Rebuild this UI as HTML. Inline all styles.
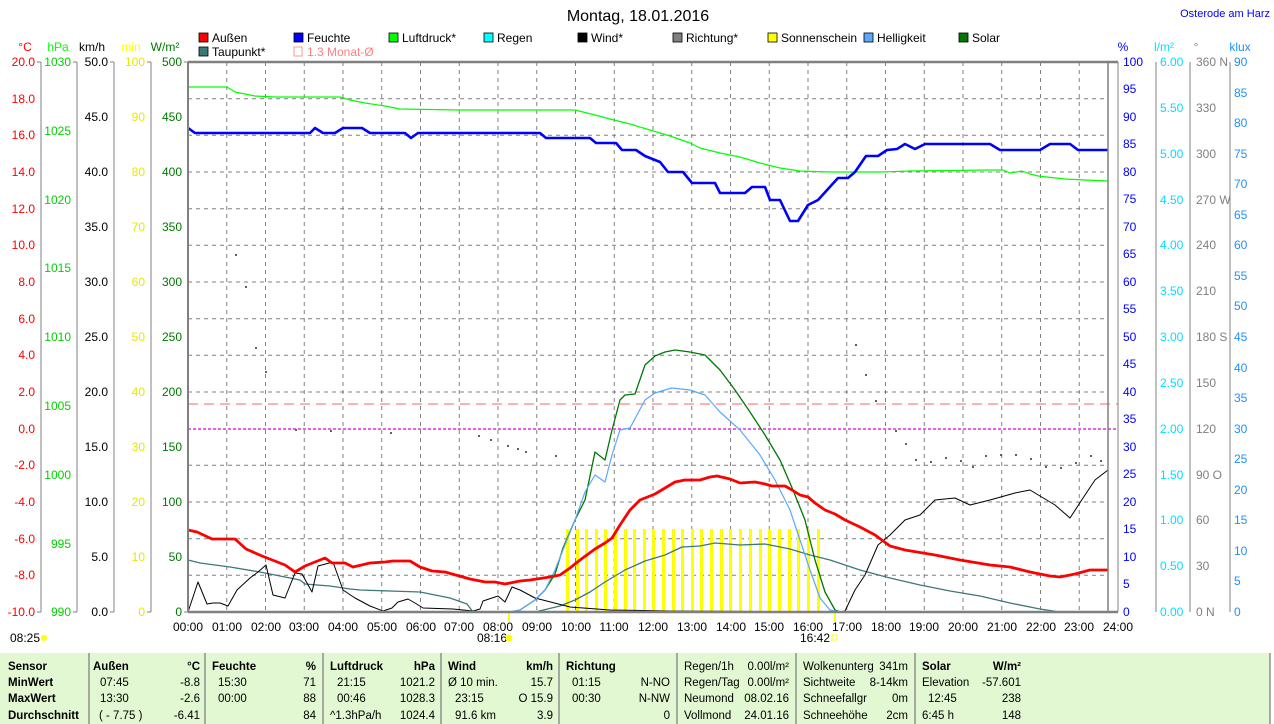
<!DOCTYPE html>
<html><head><meta charset="utf-8"><style>
html,body{margin:0;padding:0;background:#fff;}
svg{display:block;font-family:"Liberation Sans",Arial,sans-serif;}
</style></head><body>
<svg width="1274" height="724" viewBox="0 0 1274 724" xmlns="http://www.w3.org/2000/svg">
<rect width="1274" height="724" fill="#fff"/>
<text x="638" y="21" font-size="16" text-anchor="middle" fill="#000">Montag, 18.01.2016</text>
<text x="1270" y="17" font-size="11" text-anchor="end" fill="#0000ff">Osterode am Harz</text>
<!-- legend -->
<g font-size="12" fill="#000">
<rect x="199" y="33" width="9" height="9" fill="#f00" stroke="#000" stroke-width="0.8"/><text x="212" y="42">Außen</text>
<rect x="294" y="33" width="9" height="9" fill="#00f" stroke="#000" stroke-width="0.8"/><text x="307" y="42">Feuchte</text>
<rect x="389" y="33" width="9" height="9" fill="#0f0" stroke="#000" stroke-width="0.8"/><text x="402" y="42">Luftdruck*</text>
<rect x="484" y="33" width="9" height="9" fill="#0ff" stroke="#000" stroke-width="0.8"/><text x="497" y="42">Regen</text>
<rect x="578" y="33" width="9" height="9" fill="#000" stroke="#000" stroke-width="0.8"/><text x="591" y="42">Wind*</text>
<rect x="673" y="33" width="9" height="9" fill="#808080" stroke="#000" stroke-width="0.8"/><text x="686" y="42">Richtung*</text>
<rect x="768" y="33" width="9" height="9" fill="#ff0" stroke="#000" stroke-width="0.8"/><text x="781" y="42">Sonnenschein</text>
<rect x="864" y="33" width="9" height="9" fill="#5aa9ff" stroke="#000" stroke-width="0.8"/><text x="877" y="42">Helligkeit</text>
<rect x="959" y="33" width="9" height="9" fill="#007800" stroke="#000" stroke-width="0.8"/><text x="972" y="42">Solar</text>
<rect x="199" y="47" width="9" height="9" fill="#3c7878" stroke="#000" stroke-width="0.8"/><text x="212" y="56">Taupunkt*</text>
<rect x="294" y="47" width="8" height="9" fill="none" stroke="#ff8080" stroke-width="0.8"/><text x="307" y="56" fill="#ff8080">1.3 Monat-Ø</text>
</g>
<!-- axis headers -->
<g font-size="12">
<text x="25" y="51" fill="#f00" text-anchor="middle">°C</text>
<text x="58" y="51" fill="#0f0" text-anchor="middle">hPa</text>
<text x="92" y="51" fill="#000" text-anchor="middle">km/h</text>
<text x="131" y="51" fill="#ff0" text-anchor="middle">min</text>
<text x="165" y="51" fill="#007800" text-anchor="middle">W/m²</text>
<text x="1123" y="51" fill="#00f" text-anchor="middle">%</text>
<text x="1164" y="51" fill="#00e0ff" text-anchor="middle">l/m²</text>
<text x="1196" y="51" fill="#808080" text-anchor="middle">°</text>
<text x="1240" y="51" fill="#2090ff" text-anchor="middle">klux</text>
</g>
<!-- grid -->
<g stroke="#808080" stroke-width="1" stroke-dasharray="4,4">
<line x1="188" y1="98.7" x2="1108" y2="98.7"/><line x1="188" y1="135.3" x2="1108" y2="135.3"/><line x1="188" y1="172" x2="1108" y2="172"/><line x1="188" y1="208.7" x2="1108" y2="208.7"/><line x1="188" y1="245.3" x2="1108" y2="245.3"/><line x1="188" y1="282" x2="1108" y2="282"/><line x1="188" y1="318.7" x2="1108" y2="318.7"/><line x1="188" y1="355.3" x2="1108" y2="355.3"/><line x1="188" y1="392" x2="1108" y2="392"/><line x1="188" y1="465.3" x2="1108" y2="465.3"/><line x1="188" y1="502" x2="1108" y2="502"/><line x1="188" y1="538.7" x2="1108" y2="538.7"/><line x1="188" y1="575.3" x2="1108" y2="575.3"/>
<line x1="226.75" y1="62" x2="226.75" y2="612"/><line x1="265.5" y1="62" x2="265.5" y2="612"/><line x1="304.25" y1="62" x2="304.25" y2="612"/><line x1="343" y1="62" x2="343" y2="612"/><line x1="381.75" y1="62" x2="381.75" y2="612"/><line x1="420.5" y1="62" x2="420.5" y2="612"/><line x1="459.25" y1="62" x2="459.25" y2="612"/><line x1="498" y1="62" x2="498" y2="612"/><line x1="536.75" y1="62" x2="536.75" y2="612"/><line x1="575.5" y1="62" x2="575.5" y2="612"/><line x1="614.25" y1="62" x2="614.25" y2="612"/><line x1="653" y1="62" x2="653" y2="612"/><line x1="691.75" y1="62" x2="691.75" y2="612"/><line x1="730.5" y1="62" x2="730.5" y2="612"/><line x1="769.25" y1="62" x2="769.25" y2="612"/><line x1="808" y1="62" x2="808" y2="612"/><line x1="846.75" y1="62" x2="846.75" y2="612"/><line x1="885.5" y1="62" x2="885.5" y2="612"/><line x1="924.25" y1="62" x2="924.25" y2="612"/><line x1="963" y1="62" x2="963" y2="612"/><line x1="1001.75" y1="62" x2="1001.75" y2="612"/><line x1="1040.5" y1="62" x2="1040.5" y2="612"/><line x1="1079.25" y1="62" x2="1079.25" y2="612"/>
</g>
<line x1="188" y1="404" x2="1118" y2="404" stroke="#ff8080" stroke-width="1.2" stroke-dasharray="10,6"/>
<line x1="188" y1="429" x2="1118" y2="429" stroke="#e000e0" stroke-width="1.2" stroke-dasharray="3,2"/>
<!-- sunshine bars -->
<g fill="#ff0">
<rect x="566" y="529" width="3" height="83"/><rect x="576" y="529" width="3" height="83"/><rect x="585" y="529" width="3" height="83"/><rect x="595" y="529" width="3" height="83"/><rect x="604" y="529" width="3" height="83"/><rect x="614" y="529" width="3" height="83"/><rect x="624" y="529" width="3" height="83"/><rect x="633" y="529" width="3" height="83"/><rect x="643" y="529" width="3" height="83"/><rect x="652" y="529" width="3" height="83"/><rect x="662" y="529" width="3" height="83"/><rect x="672" y="529" width="3" height="83"/><rect x="681" y="529" width="3" height="83"/><rect x="691" y="529" width="3" height="83"/><rect x="700" y="529" width="3" height="83"/><rect x="710" y="529" width="3" height="83"/><rect x="720" y="529" width="3" height="83"/><rect x="729" y="529" width="3" height="83"/><rect x="739" y="529" width="3" height="83"/><rect x="749" y="529" width="3" height="83"/><rect x="759" y="529" width="3" height="83"/><rect x="768" y="529" width="3" height="83"/><rect x="778" y="529" width="3" height="83"/><rect x="788" y="529" width="3" height="83"/><rect x="797" y="529" width="3" height="83"/><rect x="807" y="529" width="3" height="83"/><rect x="817" y="529" width="3" height="83"/>
<rect x="508" y="612" width="2" height="10"/><rect x="834" y="612" width="2" height="10"/>
</g>
<!-- direction dots -->
<g fill="#606060">
<rect x="235" y="254" width="2" height="2"/><rect x="245" y="286" width="2" height="2"/><rect x="255" y="347" width="2" height="2"/><rect x="265" y="371" width="2" height="2"/><rect x="295" y="429" width="2" height="2"/><rect x="330" y="430" width="2" height="2"/><rect x="390" y="432" width="2" height="2"/><rect x="478" y="435" width="2" height="2"/><rect x="490" y="439" width="2" height="2"/><rect x="507" y="445" width="2" height="2"/><rect x="517" y="448" width="2" height="2"/><rect x="525" y="451" width="2" height="2"/><rect x="555" y="455" width="2" height="2"/><rect x="855" y="344" width="2" height="2"/><rect x="865" y="374" width="2" height="2"/><rect x="875" y="400" width="2" height="2"/><rect x="895" y="430" width="2" height="2"/><rect x="905" y="443" width="2" height="2"/><rect x="915" y="459" width="2" height="2"/><rect x="930" y="461" width="2" height="2"/><rect x="945" y="457" width="2" height="2"/><rect x="960" y="460" width="2" height="2"/><rect x="972" y="466" width="2" height="2"/><rect x="985" y="455" width="2" height="2"/><rect x="1000" y="454" width="2" height="2"/><rect x="1015" y="454" width="2" height="2"/><rect x="1030" y="458" width="2" height="2"/><rect x="1045" y="466" width="2" height="2"/><rect x="1060" y="467" width="2" height="2"/><rect x="1075" y="462" width="2" height="2"/><rect x="1090" y="455" width="2" height="2"/><rect x="1100" y="460" width="2" height="2"/>
</g>
<g fill="none" stroke-linejoin="round">
<polyline stroke="#3c7878" stroke-width="1.3" points="188,560 200,563 230,567 260,572 300,580 305,584 330,586 350,589 360,590 390,591 420,592 450,598 467,604 473,612 535,612 560,606 575,600 590,592 605,582 625,570 645,561 665,555 682,547 700,546 715,543 740,545 765,544 790,549 810,555 830,560 860,570 890,578 920,585 950,591 980,596 1010,603 1040,609 1060,612"/>
<polyline stroke="#000" stroke-width="1" points="188,612 198,582 207,604 213,603 220,603 228,606 237,590 250,578 258,572 266,565 273,595 285,598 295,573 302,574 312,592 318,566 333,562 343,590 355,598 370,606 383,611 392,608 398,602 408,599 415,603 423,608 453,609 473,611 480,609 483,601 498,596 505,602 512,587 520,590 535,598 570,607 610,610 670,611 840,612 845,611 855,590 865,575 878,545 890,535 905,520 920,515 935,500 955,498 970,505 990,500 1015,493 1030,490 1055,505 1070,518 1085,495 1095,480 1108,470"/>
<polyline stroke="#007800" stroke-width="1.3" points="510,612 520,610 535,600 545,590 555,574 563,548 575,520 585,500 595,452 605,460 612,430 620,400 625,395 635,394 645,365 655,356 665,352 675,350 690,352 705,355 720,370 735,390 750,412 765,435 780,460 793,490 805,520 815,560 825,592 835,610 840,612"/>
<polyline stroke="#5aa9ff" stroke-width="1.2" points="510,612 520,610 535,600 545,590 555,570 565,545 575,520 585,492 595,475 605,482 612,455 620,430 630,428 645,400 655,393 665,390 672,388 690,390 705,395 720,412 740,430 760,455 775,480 790,510 800,540 810,570 820,598 830,610 840,612"/>
<polyline stroke="#00ff00" stroke-width="1.2" points="188,87 227,87 235,92 255,96 275,97 310,97 340,97 350,100 365,103 385,106 400,109 460,110 575,110 595,115 610,119 630,124 650,130 670,136 690,143 700,148 720,153 740,157 760,163 780,168 800,171 830,172 880,172 910,171 990,170 1003,170 1010,173 1022,171 1030,174 1038,176 1065,179 1085,180 1108,181"/>
<polyline stroke="#0000ff" stroke-width="2.6" points="188,128 195,133 310,133 315,128 323,133 335,133 343,128 362,128 370,133 405,133 411,138 418,133 540,133 546,138 590,138 596,143 616,143 622,150 636,150 645,156 660,162 668,172 683,172 692,183 715,183 720,193 745,193 752,187 765,187 770,200 780,200 790,221 798,221 808,205 818,200 838,178 848,178 855,172 866,156 878,156 887,150 897,149 905,144 915,149 925,144 990,144 1000,150 1040,150 1050,144 1070,144 1078,150 1108,150"/>
<polyline stroke="#ff0000" stroke-width="2.8" points="188,530 197,532 212,539 235,539 246,549 262,556 285,565 295,572 305,566 325,558 332,563 345,563 353,567 370,563 385,562 393,561 410,561 420,567 432,571 445,572 470,579 485,582 495,582 505,584 520,581 530,580 550,577 560,575 570,568 580,560 595,549 605,543 612,538 620,525 630,510 640,500 655,494 665,488 675,482 685,480 700,480 710,477 717,476 730,479 740,483 755,482 765,484 772,486 785,486 792,490 800,495 808,497 815,503 825,510 835,514 845,520 860,527 875,535 890,546 905,550 935,555 960,560 990,565 1010,567 1030,572 1050,576 1060,577 1075,574 1090,570 1100,570 1108,570"/>
</g>
<!-- plot frame -->
<line x1="188" y1="62" x2="1118" y2="62" stroke="#808080" stroke-width="2.5"/>
<line x1="188" y1="612" x2="1118" y2="612" stroke="#808080" stroke-width="2.5"/>
<line x1="188" y1="62" x2="188" y2="612" stroke="#808080" stroke-width="2"/>
<line x1="1108" y1="62" x2="1108" y2="612" stroke="#808080" stroke-width="1.5"/>
<line x1="1118" y1="62" x2="1118" y2="612" stroke="#808080" stroke-width="1"/>
<!-- axes -->
<g stroke="#808080" stroke-width="1">
<line x1="41" y1="62" x2="41" y2="612"/><line x1="77" y1="62" x2="77" y2="612"/><line x1="114" y1="62" x2="114" y2="612"/><line x1="151" y1="62" x2="151" y2="612"/>
<line x1="1156" y1="62" x2="1156" y2="612"/><line x1="1190" y1="62" x2="1190" y2="612"/><line x1="1230" y1="62" x2="1230" y2="612"/>
<line x1="37" y1="62" x2="41" y2="62"/><line x1="37" y1="612" x2="41" y2="612"/><line x1="73" y1="62" x2="77" y2="62"/><line x1="73" y1="612" x2="77" y2="612"/><line x1="110" y1="62" x2="114" y2="62"/><line x1="110" y1="612" x2="114" y2="612"/><line x1="147" y1="62" x2="151" y2="62"/><line x1="147" y1="612" x2="151" y2="612"/><line x1="184" y1="62" x2="188" y2="62"/><line x1="184" y1="612" x2="188" y2="612"/>
</g>
<g font-size="12" text-anchor="end">
<g fill="#f00"><text x="35" y="66">20.0</text><text x="35" y="103">18.0</text><text x="35" y="139">16.0</text><text x="35" y="176">14.0</text><text x="35" y="213">12.0</text><text x="35" y="249">10.0</text><text x="35" y="286">8.0</text><text x="35" y="323">6.0</text><text x="35" y="359">4.0</text><text x="35" y="396">2.0</text><text x="35" y="433">0.0</text><text x="35" y="469">-2.0</text><text x="35" y="506">-4.0</text><text x="35" y="543">-6.0</text><text x="35" y="579">-8.0</text><text x="35" y="616">-10.0</text></g>
<g fill="#00d000"><text x="71" y="66">1030</text><text x="71" y="135">1025</text><text x="71" y="204">1020</text><text x="71" y="272">1015</text><text x="71" y="341">1010</text><text x="71" y="410">1005</text><text x="71" y="479">1000</text><text x="71" y="548">995</text><text x="71" y="616">990</text></g>
<g fill="#000"><text x="108" y="66">50.0</text><text x="108" y="121">45.0</text><text x="108" y="176">40.0</text><text x="108" y="231">35.0</text><text x="108" y="286">30.0</text><text x="108" y="341">25.0</text><text x="108" y="396">20.0</text><text x="108" y="451">15.0</text><text x="108" y="506">10.0</text><text x="108" y="561">5.0</text><text x="108" y="616">0.0</text></g>
<g fill="#e8e800"><text x="145" y="66">100</text><text x="145" y="121">90</text><text x="145" y="176">80</text><text x="145" y="231">70</text><text x="145" y="286">60</text><text x="145" y="341">50</text><text x="145" y="396">40</text><text x="145" y="451">30</text><text x="145" y="506">20</text><text x="145" y="561">10</text><text x="145" y="616">0</text></g>
<g fill="#007800"><text x="182" y="66">500</text><text x="182" y="121">450</text><text x="182" y="176">400</text><text x="182" y="231">350</text><text x="182" y="286">300</text><text x="182" y="341">250</text><text x="182" y="396">200</text><text x="182" y="451">150</text><text x="182" y="506">100</text><text x="182" y="561">50</text><text x="182" y="616">0</text></g>
</g>
<g font-size="12">
<g fill="#0000ff"><text x="1123" y="66">100</text><text x="1123" y="93">95</text><text x="1123" y="121">90</text><text x="1123" y="148">85</text><text x="1123" y="176">80</text><text x="1123" y="203">75</text><text x="1123" y="231">70</text><text x="1123" y="258">65</text><text x="1123" y="286">60</text><text x="1123" y="313">55</text><text x="1123" y="341">50</text><text x="1123" y="368">45</text><text x="1123" y="396">40</text><text x="1123" y="423">35</text><text x="1123" y="451">30</text><text x="1123" y="478">25</text><text x="1123" y="506">20</text><text x="1123" y="533">15</text><text x="1123" y="561">10</text><text x="1123" y="588">5</text><text x="1123" y="616">0</text></g>
<g fill="#00e0ff"><text x="1160" y="66">6.00</text><text x="1160" y="112">5.50</text><text x="1160" y="158">5.00</text><text x="1160" y="204">4.50</text><text x="1160" y="249">4.00</text><text x="1160" y="295">3.50</text><text x="1160" y="341">3.00</text><text x="1160" y="387">2.50</text><text x="1160" y="433">2.00</text><text x="1160" y="479">1.50</text><text x="1160" y="524">1.00</text><text x="1160" y="570">0.50</text><text x="1160" y="616">0.00</text></g>
<g fill="#808080"><text x="1196" y="66">360 N</text><text x="1196" y="112">330</text><text x="1196" y="158">300</text><text x="1196" y="204">270 W</text><text x="1196" y="249">240</text><text x="1196" y="295">210</text><text x="1196" y="341">180 S</text><text x="1196" y="387">150</text><text x="1196" y="433">120</text><text x="1196" y="479">90 O</text><text x="1196" y="524">60</text><text x="1196" y="570">30</text><text x="1196" y="616">0   N</text></g>
<g fill="#2090ff"><text x="1234" y="66">90</text><text x="1234" y="97">85</text><text x="1234" y="127">80</text><text x="1234" y="158">75</text><text x="1234" y="188">70</text><text x="1234" y="219">65</text><text x="1234" y="249">60</text><text x="1234" y="280">55</text><text x="1234" y="310">50</text><text x="1234" y="341">45</text><text x="1234" y="372">40</text><text x="1234" y="402">35</text><text x="1234" y="433">30</text><text x="1234" y="463">25</text><text x="1234" y="494">20</text><text x="1234" y="524">15</text><text x="1234" y="555">10</text><text x="1234" y="585">5</text><text x="1234" y="616">0</text></g>
</g>
<g font-size="12" text-anchor="middle" fill="#000">
<text x="188" y="631">00:00</text><text x="227" y="631">01:00</text><text x="266" y="631">02:00</text><text x="304" y="631">03:00</text><text x="343" y="631">04:00</text><text x="382" y="631">05:00</text><text x="421" y="631">06:00</text><text x="459" y="631">07:00</text><text x="498" y="631">08:00</text><text x="537" y="631">09:00</text><text x="576" y="631">10:00</text><text x="614" y="631">11:00</text><text x="653" y="631">12:00</text><text x="692" y="631">13:00</text><text x="731" y="631">14:00</text><text x="769" y="631">15:00</text><text x="808" y="631">16:00</text><text x="847" y="631">17:00</text><text x="886" y="631">18:00</text><text x="924" y="631">19:00</text><text x="963" y="631">20:00</text><text x="1002" y="631">21:00</text><text x="1041" y="631">22:00</text><text x="1079" y="631">23:00</text><text x="1118" y="631">24:00</text>
<text x="492" y="642">08:16</text><text x="815" y="642">16:42</text>
</g>
<text x="10" y="642" font-size="12">08:25</text>
<circle cx="44" cy="638" r="3" fill="#ff0"/><circle cx="509" cy="638" r="3.5" fill="#ff0"/><rect x="832" y="635" width="5" height="5" fill="none" stroke="#ff0"/>
<!-- table -->
<rect x="0" y="653" width="1270" height="71" fill="#e2f8d2"/>
<g stroke="#909090" stroke-width="1.5">
<line x1="89" y1="653" x2="89" y2="724"/><line x1="205" y1="653" x2="205" y2="724"/><line x1="323" y1="653" x2="323" y2="724"/><line x1="441" y1="653" x2="441" y2="724"/><line x1="559" y1="653" x2="559" y2="724"/><line x1="677" y1="653" x2="677" y2="724"/><line x1="796" y1="653" x2="796" y2="724"/><line x1="915" y1="653" x2="915" y2="724"/><line x1="1270" y1="653" x2="1270" y2="724"/>
</g>
<g font-size="11.5" fill="#000">
<g font-weight="bold"><text x="8" y="670">Sensor</text><text x="8" y="686">MinWert</text><text x="8" y="702">MaxWert</text><text x="8" y="719">Durchschnitt</text>
<text x="93" y="670">Außen</text><text x="200" y="670" text-anchor="end">°C</text>
<text x="212" y="670">Feuchte</text><text x="316" y="670" text-anchor="end">%</text>
<text x="330" y="670">Luftdruck</text><text x="435" y="670" text-anchor="end">hPa</text>
<text x="448" y="670">Wind</text><text x="553" y="670" text-anchor="end">km/h</text>
<text x="566" y="670">Richtung</text>
<text x="922" y="670">Solar</text><text x="1021" y="670" text-anchor="end">W/m²</text></g>
<text x="100" y="686">07:45</text><text x="200" y="686" text-anchor="end">-8.8</text>
<text x="100" y="702">13:30</text><text x="200" y="702" text-anchor="end">-2.6</text>
<text x="99" y="719">( - 7.75 )</text><text x="200" y="719" text-anchor="end">-6.41</text>
<text x="218" y="686">15:30</text><text x="316" y="686" text-anchor="end">71</text>
<text x="218" y="702">00:00</text><text x="316" y="702" text-anchor="end">88</text>
<text x="316" y="719" text-anchor="end">84</text>
<text x="337" y="686">21:15</text><text x="435" y="686" text-anchor="end">1021.2</text>
<text x="337" y="702">00:46</text><text x="435" y="702" text-anchor="end">1028.3</text>
<text x="330" y="719">^1.3hPa/h</text><text x="435" y="719" text-anchor="end">1024.4</text>
<text x="448" y="686">Ø 10 min.</text><text x="553" y="686" text-anchor="end">15.7</text>
<text x="455" y="702">23:15</text><text x="553" y="702" text-anchor="end">O 15.9</text>
<text x="455" y="719">91.6 km</text><text x="553" y="719" text-anchor="end">3.9</text>
<text x="572" y="686">01:15</text><text x="670" y="686" text-anchor="end">N-NO</text>
<text x="572" y="702">00:30</text><text x="670" y="702" text-anchor="end">N-NW</text>
<text x="670" y="719" text-anchor="end">0</text>
<text x="684" y="670">Regen/1h</text><text x="789" y="670" text-anchor="end">0.00l/m²</text>
<text x="684" y="686">Regen/Tag</text><text x="789" y="686" text-anchor="end">0.00l/m²</text>
<text x="684" y="702">Neumond</text><text x="789" y="702" text-anchor="end">08.02.16</text>
<text x="684" y="719">Vollmond</text><text x="789" y="719" text-anchor="end">24.01.16</text>
<text x="803" y="670">Wolkenunterg</text><text x="908" y="670" text-anchor="end">341m</text>
<text x="803" y="686">Sichtweite</text><text x="908" y="686" text-anchor="end">8-14km</text>
<text x="803" y="702">Schneefallgr</text><text x="908" y="702" text-anchor="end">0m</text>
<text x="803" y="719">Schneehöhe</text><text x="908" y="719" text-anchor="end">2cm</text>
<text x="922" y="686">Elevation</text><text x="1021" y="686" text-anchor="end">-57.601</text>
<text x="928" y="702">12:45</text><text x="1021" y="702" text-anchor="end">238</text>
<text x="922" y="719">6:45 h</text><text x="1021" y="719" text-anchor="end">148</text>
</g>
</svg>
</body></html>
